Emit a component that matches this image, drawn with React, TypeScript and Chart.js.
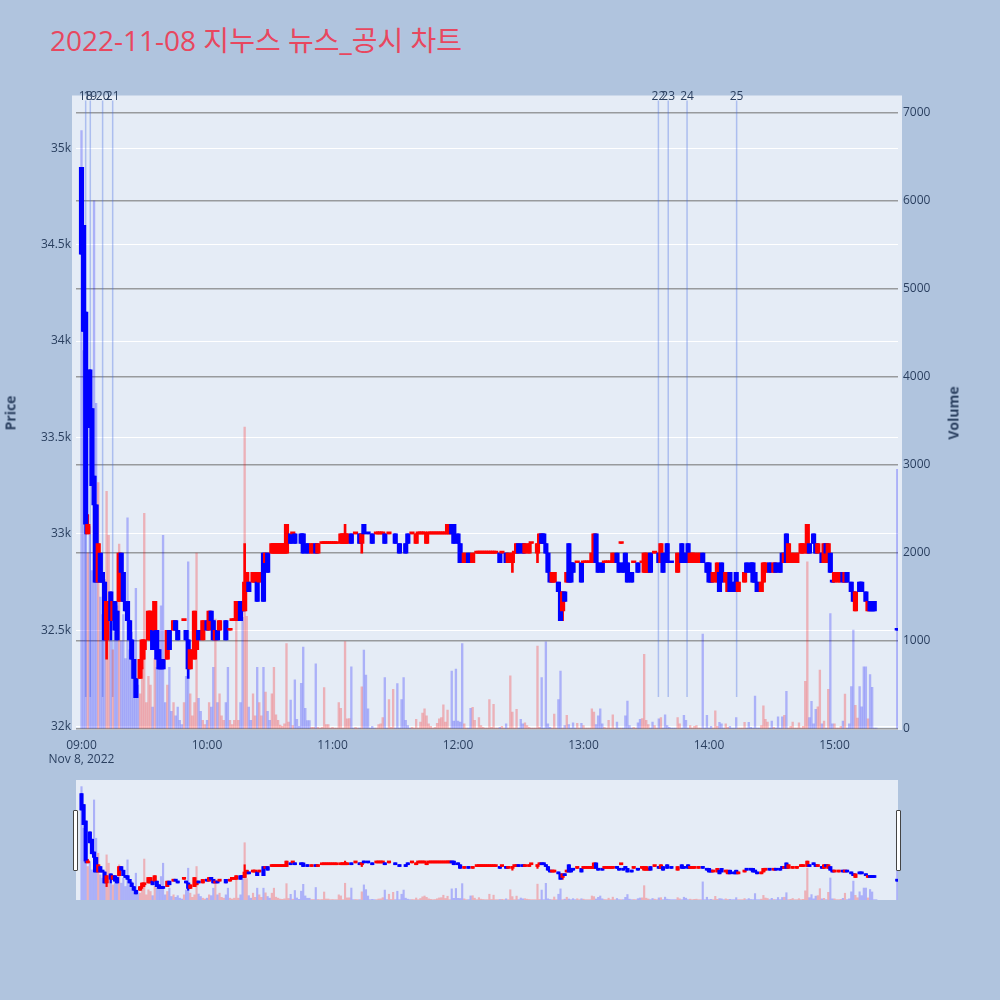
import React, { useEffect, useRef } from "react";
import { Chart, registerables } from "chart.js";

Chart.register(...registerables);

// ---------- DATA ----------
// minutes after 09:00 (Nov 8, 2022)
const candleMinutes = [
  0, 1, 2, 3, 4, 5, 6, 7, 8, 9,
  10, 11, 12, 14, 15, 16, 17, 18, 19, 20,
  21, 22, 23, 24, 25, 26, 28, 29, 30, 32,
  33, 34, 35, 36, 37, 38, 39, 41, 42, 44,
  45, 46, 49, 50, 51, 52, 54, 55, 56, 58,
  60, 61, 62, 63, 64, 65, 66, 69, 71, 72,
  73, 74, 76, 77, 78, 79, 80, 82, 83, 84,
  85, 87, 88, 89, 91, 92, 93, 94, 95, 96,
  97, 98, 100, 101, 102, 105, 106, 108, 110, 112,
  113, 115, 116, 117, 118, 119, 120, 121, 122, 124,
  125, 126, 127, 129, 131, 133, 134, 135, 137, 139,
  141, 142, 143, 144, 145, 147, 150, 152, 155, 156,
  158, 160, 161, 162, 163, 164, 165, 166, 167, 168,
  169, 170, 171, 172, 173, 174, 175, 176, 177, 178,
  180, 181, 183, 185, 187, 189, 190, 191, 192, 193,
  194, 195, 196, 197, 198, 200, 201, 203, 204, 206,
  207, 208, 209, 211, 212, 214, 215, 218, 219, 220,
  221, 222, 223, 224, 225, 226, 228, 229, 230, 231,
  232, 233, 234, 235, 237, 239, 240, 241, 242, 243,
  244, 245, 246, 247, 249, 250, 251, 252, 253, 254,
  256, 257, 258, 259, 260, 261, 263, 264, 266, 268,
  269, 270, 271, 272, 274, 276, 277, 278, 280, 282,
  285, 287, 288, 290, 291, 292, 293, 295, 297, 299,
  300, 301, 302, 304, 305, 306, 308, 309, 310, 312,
  313, 314, 317, 318, 320, 321, 322, 323, 325, 326,
  327, 329, 331, 332, 334, 335, 336, 337, 338, 340,
  342, 344, 345, 347, 348, 350, 351, 352, 354, 355,
  356, 357, 358, 359, 360, 362, 364, 365, 366, 368,
  369, 370, 372, 373, 375, 376, 377, 378, 379, 390,
];

const opens = [
  34900, 34600, 34150, 33000, 33850, 33650, 33300, 33150, 32750, 32900,
  32800, 32750, 32450, 32700, 32550, 32650, 32600, 32650, 32900, 32800,
  32650, 32650, 32550, 32450, 32350, 32250, 32250, 32350, 32400, 32450,
  32450, 32500, 32500, 32500, 32400, 32350, 32350, 32350, 32500, 32500,
  32550, 32500, 32550, 32500, 32450, 32300, 32350, 32400, 32500, 32450,
  32550, 32500, 32600, 32550, 32450, 32500, 32500, 32550, 32500, 32550,
  32550, 32550, 32650, 32650, 32600, 32700, 32750, 32750, 32750, 32750,
  32750, 32900, 32850, 32900, 32900, 32900, 32900, 32900, 32900, 32900,
  32900, 32900, 33000, 33000, 33000, 33000, 33000, 32950, 32900, 32950,
  32900, 32950, 32950, 32950, 32950, 32950, 32950, 32950, 32950, 32950,
  32950, 32950, 32950, 33000, 33000, 33000, 32950, 33050, 33000, 33000,
  33000, 33000, 33000, 33000, 33000, 33000, 33000, 32950, 32950, 33000,
  33000, 32950, 33000, 33000, 33000, 33000, 32950, 33000, 33000, 33000,
  33000, 33000, 33000, 33000, 33000, 33000, 33000, 33000, 33050, 33050,
  33000, 32950, 32850, 32900, 32850, 32900, 32900, 32900, 32900, 32900,
  32900, 32900, 32900, 32900, 32900, 32900, 32900, 32900, 32850, 32850,
  32900, 32900, 32950, 32950, 32900, 32900, 32950, 32900, 32950, 33000,
  33000, 32950, 32900, 32800, 32750, 32750, 32750, 32700, 32600, 32700,
  32750, 32950, 32850, 32850, 32850, 32850, 32850, 32850, 32850, 32850,
  32850, 32850, 33000, 32850, 32850, 32850, 32850, 32850, 32850, 32850,
  32900, 32850, 32950, 32850, 32900, 32850, 32800, 32850, 32850, 32850,
  32800, 32800, 32800, 32900, 32900, 32900, 32850, 32900, 32950, 32850,
  32800, 32950, 32900, 32950, 32850, 32850, 32850, 32850, 32900, 32850,
  32850, 32800, 32750, 32750, 32800, 32850, 32750, 32700, 32800, 32750,
  32800, 32700, 32750, 32850, 32850, 32850, 32800, 32750, 32700, 32750,
  32800, 32850, 32800, 32850, 32850, 32900, 32850, 33000, 32850, 32850,
  32850, 32900, 32900, 32900, 32950, 33000, 32950, 32900, 32900, 32850,
  32950, 32850, 32900, 32750, 32750, 32750, 32800, 32750, 32800, 32750,
  32700, 32600, 32750, 32750, 32700, 32600, 32650, 32650, 32650, 32500,
];

const highs = [
  34900, 34600, 34150, 33100, 33850, 33650, 33300, 33150, 32950, 32900,
  32800, 32750, 32650, 32700, 32650, 32650, 32600, 32900, 32900, 32800,
  32650, 32650, 32550, 32450, 32350, 32250, 32350, 32450, 32450, 32600,
  32600, 32500, 32650, 32500, 32400, 32350, 32350, 32500, 32500, 32550,
  32550, 32500, 32550, 32500, 32450, 32400, 32600, 32500, 32500, 32550,
  32550, 32600, 32600, 32550, 32500, 32500, 32550, 32550, 32500, 32550,
  32550, 32650, 32650, 32650, 32950, 32800, 32750, 32800, 32800, 32750,
  32800, 32900, 32900, 32900, 32950, 32950, 32950, 32950, 32950, 32950,
  32950, 33050, 33000, 33000, 33000, 33000, 33000, 32950, 32950, 32950,
  32950, 32950, 32950, 32950, 32950, 32950, 32950, 32950, 32950, 33000,
  33000, 33050, 33000, 33000, 33000, 33000, 33000, 33050, 33000, 33000,
  33000, 33000, 33000, 33000, 33000, 33000, 33000, 32950, 32950, 33000,
  33000, 33000, 33000, 33000, 33000, 33000, 33000, 33000, 33000, 33000,
  33000, 33000, 33000, 33000, 33000, 33000, 33050, 33050, 33050, 33050,
  33000, 32950, 32900, 32900, 32900, 32900, 32900, 32900, 32900, 32900,
  32900, 32900, 32900, 32900, 32900, 32900, 32900, 32900, 32900, 32900,
  32900, 32950, 32950, 32950, 32950, 32950, 32950, 32950, 33000, 33000,
  33000, 32950, 32900, 32800, 32800, 32800, 32750, 32700, 32700, 32700,
  32800, 32950, 32850, 32850, 32850, 32850, 32850, 32850, 32850, 32850,
  32900, 33000, 33000, 32850, 32850, 32850, 32850, 32850, 32850, 32900,
  32900, 32850, 32950, 32850, 32900, 32850, 32800, 32850, 32850, 32850,
  32900, 32900, 32850, 32900, 32900, 32900, 32950, 32900, 32950, 32850,
  32900, 32950, 32900, 32950, 32900, 32900, 32900, 32900, 32900, 32850,
  32850, 32800, 32800, 32850, 32800, 32850, 32800, 32800, 32800, 32750,
  32800, 32750, 32800, 32850, 32850, 32850, 32800, 32750, 32750, 32850,
  32850, 32850, 32850, 32850, 32850, 32900, 32900, 33000, 32950, 32900,
  32900, 32950, 32950, 33050, 32950, 33000, 32950, 32950, 32900, 32950,
  32950, 32950, 32900, 32750, 32800, 32800, 32800, 32800, 32800, 32750,
  32700, 32700, 32750, 32750, 32700, 32650, 32650, 32650, 32650, 32500,
];

const lows = [
  34450, 34050, 33000, 33000, 33550, 33250, 32750, 32750, 32750, 32750,
  32750, 32450, 32350, 32450, 32550, 32500, 32450, 32650, 32800, 32650,
  32600, 32550, 32450, 32350, 32250, 32150, 32250, 32300, 32350, 32450,
  32450, 32400, 32500, 32350, 32300, 32300, 32300, 32350, 32400, 32500,
  32500, 32450, 32550, 32450, 32250, 32300, 32350, 32400, 32450, 32450,
  32500, 32500, 32550, 32450, 32450, 32450, 32500, 32450, 32500, 32550,
  32550, 32550, 32550, 32600, 32600, 32700, 32700, 32750, 32750, 32650,
  32750, 32650, 32850, 32800, 32900, 32900, 32900, 32900, 32900, 32900,
  32900, 32900, 32950, 33000, 32950, 32950, 32900, 32900, 32900, 32900,
  32900, 32950, 32950, 32950, 32950, 32950, 32950, 32950, 32950, 32950,
  32950, 32950, 32950, 32950, 33000, 32950, 32900, 33000, 33000, 32950,
  33000, 33000, 33000, 33000, 32950, 33000, 32950, 32900, 32900, 32950,
  33000, 32950, 33000, 33000, 33000, 33000, 32950, 33000, 33000, 33000,
  33000, 33000, 33000, 33000, 33000, 33000, 33000, 33000, 33000, 32950,
  32950, 32850, 32850, 32850, 32850, 32900, 32900, 32900, 32900, 32900,
  32900, 32900, 32900, 32900, 32900, 32850, 32900, 32850, 32850, 32800,
  32900, 32900, 32900, 32900, 32900, 32900, 32950, 32850, 32950, 32950,
  32950, 32900, 32800, 32750, 32750, 32750, 32700, 32550, 32550, 32650,
  32750, 32750, 32750, 32800, 32850, 32750, 32850, 32850, 32850, 32850,
  32850, 32850, 32850, 32800, 32800, 32850, 32850, 32850, 32850, 32850,
  32850, 32800, 32950, 32800, 32850, 32750, 32750, 32850, 32800, 32850,
  32800, 32800, 32800, 32800, 32900, 32850, 32850, 32800, 32850, 32850,
  32800, 32850, 32850, 32850, 32850, 32850, 32850, 32850, 32850, 32800,
  32750, 32750, 32750, 32750, 32700, 32750, 32750, 32700, 32700, 32700,
  32700, 32700, 32750, 32800, 32800, 32750, 32750, 32700, 32700, 32750,
  32800, 32800, 32800, 32800, 32800, 32850, 32850, 32850, 32850, 32850,
  32850, 32900, 32900, 32900, 32900, 32950, 32900, 32900, 32850, 32850,
  32900, 32850, 32800, 32750, 32750, 32750, 32750, 32750, 32750, 32700,
  32650, 32600, 32700, 32700, 32650, 32600, 32600, 32600, 32600, 32500,
];

const closes = [
  34450, 34050, 33050, 33050, 33550, 33250, 33150, 32750, 32950, 32750,
  32750, 32450, 32650, 32550, 32650, 32500, 32450, 32900, 32800, 32650,
  32600, 32550, 32450, 32350, 32250, 32150, 32350, 32450, 32450, 32600,
  32600, 32400, 32650, 32350, 32300, 32300, 32300, 32500, 32400, 32550,
  32500, 32450, 32550, 32450, 32300, 32400, 32600, 32500, 32450, 32550,
  32500, 32600, 32550, 32450, 32500, 32450, 32550, 32450, 32500, 32550,
  32550, 32650, 32550, 32600, 32750, 32800, 32700, 32800, 32800, 32650,
  32800, 32650, 32900, 32800, 32950, 32950, 32950, 32950, 32950, 32950,
  32950, 33050, 32950, 33000, 32950, 32950, 32900, 32900, 32950, 32900,
  32950, 32950, 32950, 32950, 32950, 32950, 32950, 32950, 32950, 33000,
  33000, 33000, 33000, 32950, 33000, 32950, 33000, 33000, 33000, 32950,
  33000, 33000, 33000, 33000, 32950, 33000, 32950, 32900, 32900, 32950,
  33000, 33000, 33000, 33000, 33000, 33000, 33000, 33000, 33000, 33000,
  33000, 33000, 33000, 33000, 33000, 33000, 33050, 33050, 33000, 32950,
  32950, 32850, 32900, 32850, 32900, 32900, 32900, 32900, 32900, 32900,
  32900, 32900, 32900, 32900, 32900, 32850, 32900, 32850, 32900, 32900,
  32900, 32950, 32900, 32900, 32950, 32950, 32950, 32950, 33000, 32950,
  32950, 32900, 32800, 32750, 32800, 32800, 32700, 32550, 32700, 32650,
  32800, 32750, 32750, 32800, 32850, 32750, 32850, 32850, 32850, 32850,
  32900, 33000, 32850, 32800, 32800, 32850, 32850, 32850, 32850, 32900,
  32850, 32800, 32950, 32800, 32850, 32750, 32750, 32850, 32800, 32850,
  32900, 32900, 32850, 32800, 32900, 32850, 32950, 32800, 32850, 32850,
  32900, 32850, 32850, 32850, 32900, 32900, 32900, 32900, 32850, 32800,
  32750, 32750, 32800, 32850, 32700, 32750, 32800, 32800, 32700, 32700,
  32700, 32750, 32800, 32800, 32800, 32750, 32750, 32700, 32750, 32850,
  32850, 32800, 32850, 32800, 32800, 32850, 32900, 32850, 32950, 32900,
  32900, 32950, 32950, 33050, 32900, 32950, 32900, 32950, 32850, 32950,
  32900, 32950, 32800, 32750, 32800, 32800, 32750, 32800, 32750, 32700,
  32650, 32700, 32700, 32700, 32650, 32650, 32600, 32600, 32600, 32500,
];

// volume for every minute 09:00 .. 15:20, then the 15:30 closing auction
const volumes = [
  6800, 4300, 3900, 2000, 2300, 1800, 6000, 3700, 2800, 1500,
  1300, 1700, 2700, 2200, 1200, 900, 1100, 1400, 2100, 1000,
  1300, 800, 2400, 900, 1100, 700, 1600, 500, 400, 700,
  2450, 300, 600, 500, 250, 800, 700, 900, 1400, 2200,
  300, 500, 700, 200, 300, 150, 250, 100, 50, 300,
  600, 1900, 400, 150, 300, 2000, 350, 200, 100, 50,
  100, 300, 250, 700, 1250, 300, 400, 150, 100, 300,
  700, 100, 50, 100, 1450, 100, 300, 1270, 3430, 1280,
  250, 100, 400, 150, 700, 300, 150, 700, 420, 200,
  100, 400, 700, 160, 100, 45, 30, 60, 970, 80,
  330, 40, 560, 110, 30, 520, 930, 235, 95, 95,
  20, 20, 740, 20, 10, 20, 470, 50, 50, 10,
  20, 10, 10, 300, 235, 10, 995, 117, 120, 708,
  10, 20, 10, 10, 480, 897, 613, 230, 10, 30,
  10, 10, 50, 60, 130, 586, 10, 336, 20, 450,
  10, 515, 10, 336, 586, 100, 40, 10, 20, 10,
  110, 10, 80, 180, 230, 150, 60, 30, 10, 20,
  65, 115, 130, 276, 80, 216, 10, 658, 90, 681,
  90, 80, 972, 60, 10, 10, 235, 246, 100, 10,
  130, 40, 20, 10, 10, 336, 20, 280, 10, 10,
  20, 30, 10, 60, 10, 605, 193, 10, 223, 10,
  110, 60, 70, 40, 20, 10, 10, 10, 942, 20,
  586, 10, 990, 60, 20, 10, 170, 10, 336, 658,
  10, 40, 155, 50, 10, 70, 10, 65, 10, 65,
  40, 10, 10, 10, 230, 193, 50, 150, 230, 60,
  20, 10, 100, 10, 160, 10, 80, 10, 10, 10,
  150, 318, 40, 10, 20, 10, 70, 110, 120, 850,
  100, 50, 10, 80, 40, 10, 117, 130, 10, 160,
  40, 20, 10, 10, 10, 130, 60, 10, 155, 100,
  10, 40, 10, 30, 40, 10, 10, 1078, 10, 155,
  10, 30, 10, 208, 30, 75, 60, 10, 60, 20,
  30, 10, 10, 130, 10, 10, 10, 75, 10, 75,
  20, 10, 374, 10, 10, 40, 265, 110, 80, 10,
  90, 20, 10, 140, 10, 140, 155, 427, 10, 30,
  80, 10, 10, 70, 10, 30, 541, 1900, 130, 314,
  60, 223, 253, 670, 60, 90, 10, 450, 1313, 60,
  60, 10, 10, 30, 90, 397, 10, 60, 481, 1124,
  269, 125, 481, 253, 708, 708, 117, 620, 473, 10,
  10,
];
const closingAuctionMinute = 390;
const closingAuctionVolume = 2950;

// news / disclosure markers
const newsMinutes = [2.0, 4.2, 10.1, 14.9, 275.8, 280.5, 289.5, 313.2];
const newsLabels = ["18", "19", "20", "21", "22", "23", "24", "25"];

// axis ticks
const timeTickMinutes = [0, 60, 120, 180, 240, 300, 360];
const timeTickLabels = ["09:00", "10:00", "11:00", "12:00", "13:00", "14:00", "15:00"];
const dateLabel = "Nov 8, 2022";
const priceTicks = [32000, 32500, 33000, 33500, 34000, 34500, 35000];
const priceTickLabels = ["32k", "32.5k", "33k", "33.5k", "34k", "34.5k", "35k"];
const volumeTicks = [0, 1000, 2000, 3000, 4000, 5000, 6000, 7000];
const volumeTickLabels = ["0", "1000", "2000", "3000", "4000", "5000", "6000", "7000"];

const TITLE = "2022-11-08 지누스 뉴스_공시 차트";

// axis ranges
const X_RANGE = [-2.63, 390.35];
const PRICE_RANGE = [31983, 35273];
const VOLUME_RANGE = [-11, 7198];

// ---------- STYLE ----------
const FONT = '"Open Sans", "Noto Sans CJK KR", "Noto Sans", sans-serif';
const TEXT = "#2a3f5f";
const PAGE_BG = "#B0C4DE";
const PLOT_BG = "#E5ECF6";
const UP = "#FF0000";
const DOWN = "#0000FF";
const UP_VOL = "rgba(255,0,0,0.25)";
const DOWN_VOL = "rgba(0,0,255,0.25)";
const NEWS_LINE = "rgba(65,105,225,0.35)";
const VOL_GRID = "rgba(120,120,120,0.7)";

// plotly-like direction: close vs open, ties resolved against previous close
function candleDirections(): boolean[] {
  const out: boolean[] = [];
  let inc = true;
  let prev: number | null = null;
  for (let i = 0; i < closes.length; i++) {
    const o = opens[i];
    const c = closes[i];
    if (c === o) {
      if (prev !== null && c !== prev) inc = c > prev;
    } else {
      inc = c > o;
    }
    prev = c;
    out.push(inc);
  }
  return out;
}

function buildDatasets(mini: boolean) {
  const dirs = candleDirections();
  const candleColors = dirs.map((d) => (d ? UP : DOWN));
  const dirByMinute = new Map<number, boolean>();
  candleMinutes.forEach((m, i) => dirByMinute.set(m, dirs[i]));

  const volPoints: { x: number; y: number }[] = [];
  const volColors: string[] = [];
  let last = true;
  volumes.forEach((v, m) => {
    if (dirByMinute.has(m)) last = dirByMinute.get(m) as boolean;
    volPoints.push({ x: m, y: v });
    volColors.push(last ? UP_VOL : DOWN_VOL);
  });
  if (dirByMinute.has(closingAuctionMinute)) last = dirByMinute.get(closingAuctionMinute) as boolean;
  volPoints.push({ x: closingAuctionMinute, y: closingAuctionVolume });
  volColors.push(last ? UP_VOL : DOWN_VOL);

  return [
    {
      label: "body",
      data: candleMinutes.map((m, i) => ({
        x: m,
        y: [Math.min(opens[i], closes[i]), Math.max(opens[i], closes[i])],
      })),
      backgroundColor: candleColors,
      borderWidth: 0,
      barThickness: mini ? 3.5 : 4.5,
      minBarLength: 2,
      grouped: false,
      yAxisID: "y",
      order: 0,
    },
    {
      label: "wick",
      data: candleMinutes.map((m, i) => ({ x: m, y: [lows[i], highs[i]] })),
      backgroundColor: candleColors,
      borderWidth: 0,
      barThickness: mini ? 1.5 : 2,
      minBarLength: 1,
      grouped: false,
      yAxisID: "y",
      order: 1,
    },
    {
      label: "Volume",
      data: volPoints,
      backgroundColor: volColors,
      borderWidth: 0,
      barThickness: mini ? 1.5 : 1.7,
      grouped: false,
      yAxisID: "y1",
      order: 2,
    },
  ];
}

const plotBgPlugin = {
  id: "plotBg",
  beforeDraw(chart: any) {
    const { ctx, chartArea: a } = chart;
    ctx.save();
    ctx.fillStyle = PLOT_BG;
    ctx.fillRect(a.left - 4, a.top, a.width + 8, a.bottom - a.top);
    ctx.restore();
  },
};

const newsPlugin = {
  id: "news",
  beforeDatasetsDraw(chart: any) {
    const { ctx, chartArea: a, scales } = chart;
    const h = a.bottom - a.top;
    ctx.save();
    ctx.strokeStyle = NEWS_LINE;
    ctx.lineWidth = 1.5;
    newsMinutes.forEach((m) => {
      const px = scales.x.getPixelForValue(m);
      ctx.beginPath();
      ctx.moveTo(px, a.top + h * 0.008);
      ctx.lineTo(px, a.top + h * 0.948);
      ctx.stroke();
    });
    ctx.restore();
  },
  afterDraw(chart: any) {
    const { ctx, chartArea: a, scales } = chart;
    ctx.save();
    ctx.fillStyle = TEXT;
    ctx.font = `12px ${FONT}`;
    ctx.textAlign = "center";
    ctx.textBaseline = "middle";
    newsMinutes.forEach((m, i) => {
      const px = scales.x.getPixelForValue(m);
      ctx.fillText(newsLabels[i], px, a.top + 1.5);
    });
    ctx.restore();
  },
};

export default function App() {
  const mainRef = useRef<HTMLCanvasElement | null>(null);
  const sliderRef = useRef<HTMLCanvasElement | null>(null);

  useEffect(() => {
    if (!mainRef.current || !sliderRef.current) return;
    const tickFont = { family: FONT, size: 12 };

    const main = new Chart(mainRef.current, {
      type: "bar",
      data: { datasets: buildDatasets(false) as any },
      options: {
        animation: false,
        responsive: false,
        events: [],
        layout: { padding: { top: 95.5, left: 0, right: 0, bottom: 0 } },
        plugins: { legend: { display: false }, tooltip: { enabled: false } },
        scales: {
          x: {
            type: "linear",
            min: X_RANGE[0],
            max: X_RANGE[1],
            offset: false,
            grid: { display: false, offset: false },
            border: { display: false },
            afterBuildTicks: (s: any) => {
              s.ticks = timeTickMinutes.map((v) => ({ value: v }));
            },
            afterFit: (s: any) => {
              s.height = 40;
            },
            ticks: {
              autoSkip: false,
              maxRotation: 0,
              padding: 1,
              color: TEXT,
              font: { family: FONT, size: 12, lineHeight: 1.15 },
              callback: (_v: any, i: number) =>
                i === 0 ? [timeTickLabels[0], dateLabel] : timeTickLabels[i],
            },
          },
          y: {
            type: "linear",
            position: "left",
            min: PRICE_RANGE[0],
            max: PRICE_RANGE[1],
            grid: { color: "#FFFFFF", lineWidth: 1, drawTicks: false },
            border: { display: false },
            afterBuildTicks: (s: any) => {
              s.ticks = priceTicks.map((v) => ({ value: v }));
            },
            afterFit: (s: any) => {
              s.width = 76;
            },
            ticks: {
              padding: 5,
              color: TEXT,
              font: tickFont,
              callback: (_v: any, i: number) => priceTickLabels[i],
            },
          },
          y1: {
            type: "linear",
            position: "right",
            min: VOLUME_RANGE[0],
            max: VOLUME_RANGE[1],
            grid: { color: VOL_GRID, lineWidth: 1.5, drawTicks: false },
            border: { display: false },
            afterBuildTicks: (s: any) => {
              s.ticks = volumeTicks.map((v) => ({ value: v }));
            },
            afterFit: (s: any) => {
              s.width = 102;
            },
            ticks: {
              padding: 5,
              color: TEXT,
              font: tickFont,
              callback: (_v: any, i: number) => volumeTickLabels[i],
            },
          },
        },
      } as any,
      plugins: [plotBgPlugin, newsPlugin],
    });

    const slider = new Chart(sliderRef.current, {
      type: "bar",
      data: { datasets: buildDatasets(true) as any },
      options: {
        animation: false,
        responsive: false,
        events: [],
        layout: { padding: 0 },
        plugins: { legend: { display: false }, tooltip: { enabled: false } },
        scales: {
          x: { type: "linear", display: false, min: X_RANGE[0], max: X_RANGE[1], offset: false, grid: { offset: false } },
          y: { type: "linear", display: false, min: PRICE_RANGE[0], max: PRICE_RANGE[1] },
          y1: { type: "linear", display: false, position: "right", min: VOLUME_RANGE[0], max: VOLUME_RANGE[1] },
        },
      } as any,
    });

    return () => {
      main.destroy();
      slider.destroy();
    };
  }, []);

  const handle = (left: number) => (
    <div
      style={{
        position: "absolute",
        left,
        top: 810,
        width: 3,
        height: 59,
        background: "#FFFFFF",
        border: "1px solid #444444",
        borderRadius: 1,
      }}
    />
  );

  return (
    <div
      style={{
        position: "fixed",
        left: 0,
        top: 0,
        width: 1000,
        height: 1000,
        background: PAGE_BG,
        overflow: "hidden",
        fontFamily: FONT,
      }}
    >
      <div
        style={{
          position: "absolute",
          left: 50,
          top: 21,
          fontSize: 28,
          lineHeight: "38px",
          color: "#E8475F",
          whiteSpace: "nowrap",
        }}
      >
        {TITLE}
      </div>
      <canvas
        ref={mainRef}
        width={1000}
        height={770}
        style={{ position: "absolute", left: 0, top: 0, width: 1000, height: 770 }}
      />
      <div
        style={{
          position: "absolute",
          left: 10,
          top: 413,
          transform: "translate(-50%, -50%) rotate(-90deg)",
          fontSize: 14,
          fontWeight: 700,
          color: TEXT,
          whiteSpace: "nowrap",
        }}
      >
        Price
      </div>
      <div
        style={{
          position: "absolute",
          left: 953,
          top: 413,
          transform: "translate(-50%, -50%) rotate(-90deg)",
          fontSize: 14,
          fontWeight: 700,
          color: TEXT,
          whiteSpace: "nowrap",
        }}
      >
        Volume
      </div>
      <canvas
        ref={sliderRef}
        width={822}
        height={120}
        style={{ position: "absolute", left: 76, top: 780, width: 822, height: 120, background: PLOT_BG }}
      />
      {handle(73)}
      {handle(896)}
    </div>
  );
}
